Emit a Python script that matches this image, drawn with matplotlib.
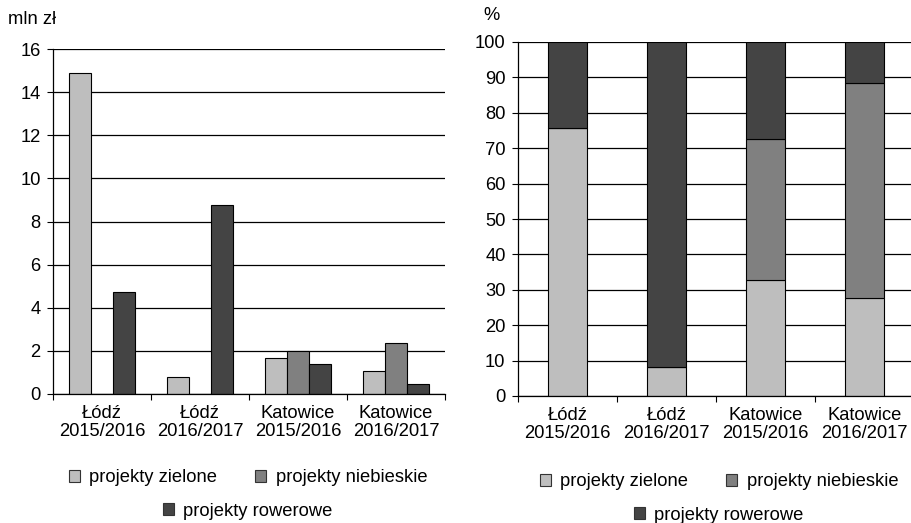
import matplotlib
matplotlib.use('Agg')
import matplotlib.pyplot as plt
import numpy as np
from matplotlib.patches import Patch

plt.rcParams['font.family'] = ['Liberation Sans', 'DejaVu Sans']

# dane
categories = ['Łódź\n2015/2016', 'Łódź\n2016/2017', 'Katowice\n2015/2016', 'Katowice\n2016/2017']
series_names = ['projekty zielone', 'projekty niebieskie', 'projekty rowerowe']
colors = ['#bebebe', '#808080', '#444444']

mln_zielone = [14.9, 0.8, 1.65, 1.07]
mln_niebieskie = [0.0, 0.0, 2.0, 2.35]
mln_rowerowe = [4.75, 8.75, 1.38, 0.45]

pct_zielone = [75.6, 8.3, 32.7, 27.6]
pct_niebieskie = [0.0, 0.0, 40.0, 60.8]
pct_rowerowe = [24.4, 91.7, 27.3, 11.6]

FS = 13.2
W, H = 911, 523

fig = plt.figure(figsize=(W / 100, H / 100), dpi=100)
ax1 = fig.add_axes([53 / W, 1 - 394 / H, 392 / W, 345 / H])
ax2 = fig.add_axes([518 / W, 1 - 396 / H, 396 / W, 354 / H])


def style_axes(ax, ymax, step):
    ax.set_xlim(0, 4)
    ax.set_ylim(0, ymax)
    ax.set_yticks(np.arange(0, ymax + 1, step))
    ax.set_xticks(range(5))
    ax.set_xticklabels([])
    ax.set_xticks(np.arange(4) + 0.5, minor=True)
    ax.set_xticklabels(categories, minor=True, fontsize=FS, linespacing=1.05)
    ax.tick_params(axis='x', which='major', length=4, width=0.8, color='black')
    ax.tick_params(axis='x', which='minor', length=0, pad=8)
    ax.tick_params(axis='y', length=4, width=0.8, pad=5, labelsize=FS)
    ax.spines['top'].set_visible(False)
    ax.spines['right'].set_visible(False)
    for s in ['left', 'bottom']:
        ax.spines[s].set_linewidth(0.9)
    ax.yaxis.grid(True, color='black', linewidth=0.9)
    ax.set_axisbelow(True)


def add_legend(ax, cx, y1, y2):
    handles = [Patch(facecolor=c, edgecolor='#333333', linewidth=0.8) for c in colors]
    kw = dict(frameon=False, fontsize=FS, handlelength=0.6, handleheight=0.6,
              handletextpad=0.5, borderpad=0, loc='center',
              bbox_transform=fig.transFigure)
    leg1 = ax.legend(handles[:2], series_names[:2], ncol=2, columnspacing=2.1,
                     bbox_to_anchor=(cx / W, 1 - y1 / H), **kw)
    ax.add_artist(leg1)
    ax.legend(handles[2:], series_names[2:], bbox_to_anchor=(cx / W, 1 - y2 / H), **kw)


# wykres lewy - mln zł
x = np.arange(4) + 0.5
bw = 0.225
for k, vals in enumerate([mln_zielone, mln_niebieskie, mln_rowerowe]):
    ax1.bar(x + (k - 1) * bw, vals, bw, color=colors[k], edgecolor='black', linewidth=0.8)
style_axes(ax1, 16, 2)
fig.text(8 / W, 1 - 20 / H, 'mln zł', fontsize=FS, va='center', ha='left')
add_legend(ax1, 248, 478, 511)

# wykres prawy - %
bottom = np.zeros(4)
for k, vals in enumerate([pct_zielone, pct_niebieskie, pct_rowerowe]):
    ax2.bar(x, vals, 0.4, bottom=bottom, color=colors[k], edgecolor='black', linewidth=0.8)
    bottom += np.array(vals)
style_axes(ax2, 100, 10)
fig.text(492 / W, 1 - 16 / H, '%', fontsize=FS, va='center', ha='center')
add_legend(ax2, 719, 482, 515)

fig.savefig('out.png', dpi=100)
